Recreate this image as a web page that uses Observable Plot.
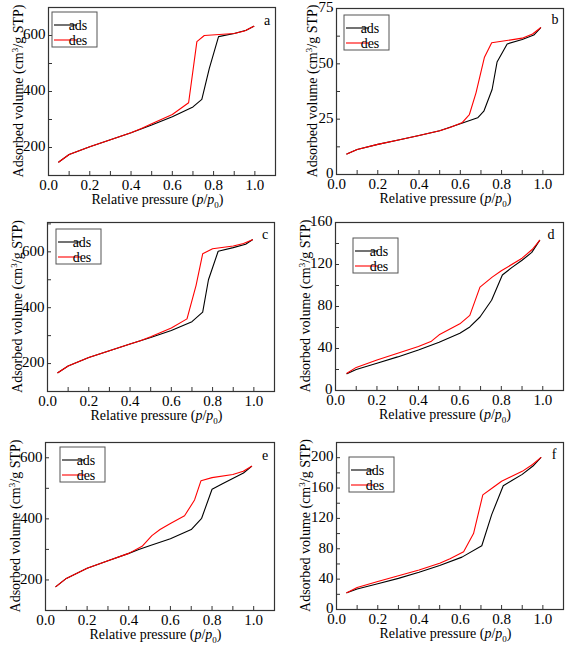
<!DOCTYPE html>
<html>
<head>
<meta charset="utf-8">
<script src="https://cdn.jsdelivr.net/npm/d3@7"></script>
<script src="https://cdn.jsdelivr.net/npm/@observablehq/plot@0.6"></script>
<style>
  html, body { margin: 0; padding: 0; background: #fff; }
  #wrap { position: relative; width: 567px; height: 647px; overflow: hidden; }
  .panel { position: absolute; }
</style>
</head>
<body>
<div id="wrap"></div>
<script>
// ---------- data ----------
const xMajor = [0, 0.2, 0.4, 0.6, 0.8, 1.0];
const xMinor = [0.1, 0.2, 0.3, 0.4, 0.5, 0.6, 0.7, 0.8, 0.9, 1.0];
const seriesNames = ["ads", "des"];
const panelLetters = ["a", "b", "c", "d", "e", "f"];

const aAdsP = [0.05, 0.1, 0.2, 0.3, 0.4, 0.5, 0.6, 0.7, 0.743, 0.779, 0.824, 0.9, 0.958, 0.995];
const aAdsV = [148, 175, 203, 228, 253, 280, 310, 345, 372, 482, 596, 607, 619, 633];
const aDesP = [0.995, 0.95, 0.9, 0.755, 0.719, 0.679, 0.6, 0.5, 0.45, 0.4, 0.3, 0.2, 0.1, 0.05];
const aDesV = [633, 616, 607, 600, 578, 360, 318, 285, 268, 253, 228, 203, 175, 148];
const aTicks = [200, 400, 600];

const bAdsP = [0.05, 0.1, 0.2, 0.3, 0.4, 0.5, 0.6, 0.684, 0.714, 0.754, 0.778, 0.827, 0.9, 0.956, 0.989];
const bAdsV = [9.3, 11.3, 13.6, 15.6, 17.6, 19.8, 22.9, 25.6, 28.6, 38.4, 50.8, 59, 61, 63, 66.3];
const bDesP = [0.989, 0.95, 0.9, 0.752, 0.717, 0.676, 0.644, 0.61, 0.55, 0.5, 0.4, 0.3, 0.2, 0.1, 0.05];
const bDesV = [66.3, 63.5, 61.6, 59.5, 53, 36.9, 27.1, 23.5, 21.2, 19.8, 17.6, 15.6, 13.6, 11.3, 9.3];
const bTicks = [0, 25, 50, 75];

const cAdsP = [0.05, 0.1, 0.2, 0.3, 0.4, 0.5, 0.6, 0.7, 0.752, 0.78, 0.827, 0.9, 0.96, 0.993];
const cAdsV = [167, 191, 222, 246, 270, 293, 318, 350, 384, 500, 602, 615, 627, 643];
const cDesP = [0.993, 0.95, 0.9, 0.8, 0.752, 0.72, 0.676, 0.6, 0.5, 0.45, 0.4, 0.3, 0.2, 0.1, 0.05];
const cDesV = [643, 630, 621, 611, 593, 480, 360, 327, 296, 282, 270, 246, 222, 191, 167];
const cTicks = [200, 400, 600];

const dAdsP = [0.055, 0.1, 0.2, 0.3, 0.4, 0.5, 0.6, 0.648, 0.697, 0.753, 0.805, 0.85, 0.9, 0.947, 0.985];
const dAdsV = [16, 20, 26, 32, 38.5, 46, 54.5, 60.5, 70, 86, 110, 117, 124, 131.5, 143];
const dDesP = [0.985, 0.95, 0.9, 0.8, 0.756, 0.697, 0.648, 0.6, 0.5, 0.463, 0.4, 0.3, 0.2, 0.1, 0.055];
const dDesV = [143, 134.5, 126, 114, 108, 98.5, 71.5, 63.5, 53, 47, 42, 35.5, 29, 22, 16.5];
const dTicks = [0, 40, 80, 120, 160];

const eAdsP = [0.05, 0.1, 0.2, 0.3, 0.4, 0.448, 0.5, 0.6, 0.7, 0.75, 0.8, 0.85, 0.951, 0.99];
const eAdsV = [178, 205, 238, 263, 287, 300, 312, 335, 365, 402, 497, 515, 550, 572];
const eDesP = [0.99, 0.95, 0.9, 0.8, 0.747, 0.716, 0.668, 0.6, 0.55, 0.511, 0.464, 0.4, 0.3, 0.2, 0.1, 0.05];
const eDesV = [572, 556, 545, 535, 525, 462, 410, 385, 365, 345, 310, 287, 263, 238, 205, 178];
const eTicks = [200, 400, 600];

const fAdsP = [0.05, 0.1, 0.2, 0.3, 0.4, 0.5, 0.608, 0.704, 0.752, 0.808, 0.85, 0.9, 0.952, 0.99];
const fAdsV = [22, 27, 34, 41, 49, 58, 69, 84, 125, 163, 170, 178, 189, 200];
const fDesP = [0.99, 0.95, 0.9, 0.8, 0.76, 0.709, 0.664, 0.616, 0.55, 0.5, 0.4, 0.3, 0.2, 0.1, 0.05];
const fDesV = [200, 191, 182, 169, 161, 151, 100, 76, 67, 61, 52, 44.5, 37, 29, 22];
const fTicks = [0, 40, 80, 120, 160, 200];

// ---------- layout (styles, positions) ----------
const FONT = "'Liberation Serif', 'Times New Roman', serif";
const layout = [
  {left: 0,   top: 0,   w: 283, h: 215, mL: 48, mR: 8, mT: 7,  mB: 40, xd: [0, 1.1], yd: [100, 700], ytx: 18, leg: [52, 12], let: [267, 20]},
  {left: 284, top: 0,   w: 283, h: 215, mL: 52, mR: 4, mT: 8,  mB: 41, xd: [0, 1.1], yd: [0, 75],    ytx: 28, leg: [60, 15], let: [271, 19]},
  {left: 0,   top: 215, w: 283, h: 215, mL: 47, mR: 9, mT: 7,  mB: 39, xd: [0, 1.1], yd: [100, 705], ytx: 17, leg: [56, 14], let: [265, 19]},
  {left: 284, top: 215, w: 283, h: 215, mL: 51, mR: 4, mT: 7,  mB: 40, xd: [0, 1.1], yd: [0, 160],   ytx: 21, leg: [69, 23], let: [267, 19]},
  {left: 0,   top: 430, w: 283, h: 217, mL: 45, mR: 9, mT: 12, mB: 37, xd: [0, 1.1], yd: [100, 650], ytx: 15, leg: [60, 17], let: [265, 25]},
  {left: 284, top: 430, w: 283, h: 217, mL: 52, mR: 4, mT: 12, mB: 38, xd: [0, 1.1], yd: [0, 220],   ytx: 21, leg: [65, 27], let: [270, 24]}
];

const panelData = [
  [aAdsP, aAdsV, aDesP, aDesV, aTicks],
  [bAdsP, bAdsV, bDesP, bDesV, bTicks],
  [cAdsP, cAdsV, cDesP, cDesV, cTicks],
  [dAdsP, dAdsV, dDesP, dDesV, dTicks],
  [eAdsP, eAdsV, eDesP, eDesV, eTicks],
  [fAdsP, fAdsV, fDesP, fDesV, fTicks]
];

const wrap = document.getElementById("wrap");

panelData.forEach(([adsP, adsV, desP, desV, yTicks], i) => {
  const L = layout[i];
  const innerW = L.w - L.mL - L.mR;
  const innerH = L.h - L.mT - L.mB;
  const ads = adsP.map((p, k) => ({p, v: adsV[k]}));
  const des = desP.map((p, k) => ({p, v: desV[k]}));
  const step = yTicks[1] - yTicks[0];
  const yMinor = [];
  for (let k = 0; k < yTicks.length; k++) {
    yMinor.push(yTicks[k]);
    yMinor.push(yTicks[k] + step / 2);
  }
  const yMinorIn = yMinor.filter(v => v > L.yd[0] && v < L.yd[1]);

  const svg = Plot.plot({
    width: L.w, height: L.h,
    marginLeft: L.mL, marginRight: L.mR, marginTop: L.mT, marginBottom: L.mB,
    style: {fontFamily: FONT, fontSize: "15px", color: "#000", background: "#fff", overflow: "visible"},
    x: {domain: L.xd, label: null},
    y: {domain: L.yd, label: null},
    marks: [
      Plot.axisX(xMajor, {tickSize: 0, tickPadding: 4, tickFormat: d3.format(".1f"), label: null, fontSize: 15}),
      Plot.axisY(yTicks, {tickSize: 0, tickPadding: 3, dy: -1, label: null, fontSize: 15}),
      Plot.tickX(xMinor, {x: d => d, stroke: "#333", insetTop: innerH - 4}),
      Plot.tickY(yMinorIn, {y: d => d, stroke: "#333", insetRight: innerW - 4}),
      Plot.line(ads, {x: "p", y: "v", stroke: "#000", strokeWidth: 1.1}),
      Plot.line(des, {x: "p", y: "v", stroke: "#ff0000", strokeWidth: 1.1}),
      Plot.frame({stroke: "#333", strokeWidth: 1.2})
    ]
  });

  const s = d3.select(svg);
  // x title
  const xt = s.append("text")
    .attr("x", L.mL + innerW / 2 - 4)
    .attr("y", L.h - L.mB + 29)
    .attr("text-anchor", "middle")
    .style("font-family", FONT).attr("font-size", 14).attr("fill", "#000");
  xt.append("tspan").text("Relative pressure (");
  xt.append("tspan").attr("font-style", "italic").text("p");
  xt.append("tspan").text("/");
  xt.append("tspan").attr("font-style", "italic").text("p");
  xt.append("tspan").attr("dy", 4).attr("font-size", 9).text("0");
  xt.append("tspan").attr("dy", -4).text(")");

  // y title
  const yt = s.append("text")
    .attr("transform", `translate(${L.ytx},${L.mT + innerH / 2}) rotate(-90)`)
    .attr("dy", "0.35em")
    .attr("text-anchor", "middle")
    .style("font-family", FONT).attr("font-size", 14).attr("fill", "#000");
  yt.append("tspan").text("Adsorbed volume (cm");
  yt.append("tspan").attr("dy", -5).attr("font-size", 9).text("3");
  yt.append("tspan").attr("dy", 5).text("/g STP)");

  // legend
  const [lx, ly] = L.leg;
  const g = s.append("g").attr("transform", `translate(${lx},${ly})`);
  g.append("rect").attr("x", 0).attr("y", 0).attr("width", 45).attr("height", 35)
    .attr("fill", "#fff").attr("stroke", "#555").attr("stroke-width", 1);
  seriesNames.forEach((name, k) => {
    const yy = 13 + k * 15;
    g.append("line").attr("x1", 2).attr("x2", 25).attr("y1", yy).attr("y2", yy)
      .attr("stroke", k === 0 ? "#000" : "#ff0000").attr("stroke-width", 1.1);
    g.append("text").attr("x", 26).attr("y", yy).attr("dy", "0.33em")
      .style("font-family", FONT).attr("font-size", 14).attr("fill", "#000").text(name);
  });

  // panel letter
  s.append("text").attr("x", L.let[0]).attr("y", L.let[1]).attr("dy", "0.33em")
    .attr("text-anchor", "middle")
    .style("font-family", FONT).attr("font-size", 14).attr("fill", "#000").text(panelLetters[i]);

  const div = document.createElement("div");
  div.className = "panel";
  div.style.left = L.left + "px";
  div.style.top = L.top + "px";
  div.appendChild(svg);
  wrap.appendChild(div);
});
</script>
</body>
</html>
